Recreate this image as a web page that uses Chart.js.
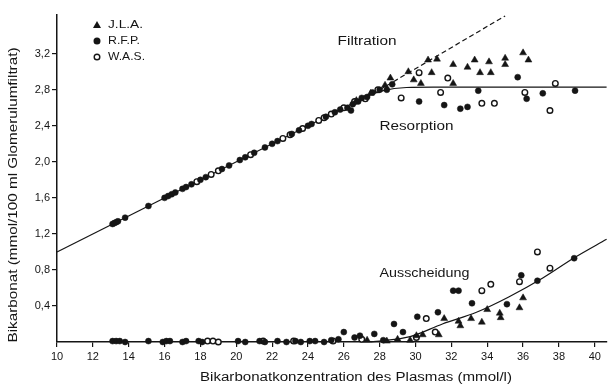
<!DOCTYPE html>
<html>
<head>
<meta charset="utf-8">
<script src="https://cdn.jsdelivr.net/npm/chart.js@4.4.1/dist/chart.umd.min.js"></script>
<style>
  html, body { margin: 0; padding: 0; background: #fff; }
</style>
</head>
<body>
<canvas id="chart" width="612" height="385"></canvas>
<script>
// Ticks
const xTicks = [10, 12, 14, 16, 18, 20, 22, 24, 26, 28, 30, 32, 34, 36, 38, 40];
const yTicks = [0.4, 0.8, 1.2, 1.6, 2.0, 2.4, 2.8, 3.2];

// Messpunkte [Plasma-Bikarbonat, Bikarbonat]
const jlaPoints = [
  [26.7, 2.68], [27.5, 2.76], [28.3, 2.85], [28.6, 2.93], [29.6, 3.0], [29.9, 2.91],
  [30.3, 2.87], [30.7, 3.13], [30.9, 2.99], [31.2, 3.14], [32.1, 3.08], [32.1, 2.87],
  [32.9, 3.05], [33.3, 3.13], [33.6, 2.99], [34.1, 3.11], [34.2, 2.99], [35.0, 3.15],
  [35.0, 3.08], [36.0, 3.21], [36.3, 3.13],
  [27.3, 0.02], [28.4, 0.01], [29.0, 0.03], [29.7, 0.02], [30.05, 0.07], [30.4, 0.08],
  [31.3, 0.08], [31.6, 0.26], [32.4, 0.23], [32.5, 0.18], [33.1, 0.26], [33.7, 0.22],
  [34.0, 0.36], [34.7, 0.32], [34.75, 0.27], [35.8, 0.38], [36.0, 0.49]
];
const rfpPoints = [
  [13.1, 1.31], [13.2, 1.32], [13.3, 1.33], [13.4, 1.34], [13.8, 1.38], [15.1, 1.51],
  [16.0, 1.60], [16.2, 1.62], [16.4, 1.64], [16.6, 1.66], [17.0, 1.70], [17.2, 1.72],
  [17.5, 1.75], [18.0, 1.80], [18.3, 1.83], [19.2, 1.92], [19.6, 1.96], [20.2, 2.02],
  [20.5, 2.05], [21.0, 2.10], [21.6, 2.16], [22.0, 2.20], [22.3, 2.23], [23.1, 2.31],
  [23.5, 2.35], [24.0, 2.40], [24.2, 2.42], [25.0, 2.50], [25.5, 2.55], [25.8, 2.58],
  [26.2, 2.60], [26.4, 2.57], [26.5, 2.64], [26.8, 2.67], [27.0, 2.71], [27.3, 2.72],
  [27.6, 2.77], [28.0, 2.80], [28.4, 2.80], [28.7, 2.86], [30.2, 2.67], [31.6, 2.63],
  [32.5, 2.59], [32.9, 2.61], [33.5, 2.79], [35.7, 2.94], [36.2, 2.70], [37.1, 2.76],
  [38.9, 2.79],
  [13.1, 0.01], [13.3, 0.01], [13.5, 0.01], [13.8, 0.0], [15.1, 0.01], [15.9, 0.0],
  [16.1, 0.01], [16.3, 0.01], [17.0, 0.0], [17.2, 0.01], [17.9, 0.01], [18.1, 0.0],
  [20.1, 0.01], [20.5, 0.0], [21.3, 0.01], [21.6, 0.0], [22.3, 0.01], [22.8, 0.0],
  [23.3, 0.01], [23.6, 0.0], [24.1, 0.01], [24.4, 0.01], [24.9, 0.0], [25.3, 0.02],
  [25.7, 0.03], [26.0, 0.11], [26.6, 0.05], [26.9, 0.07], [27.7, 0.09], [28.2, 0.02],
  [28.8, 0.2], [29.3, 0.11], [30.1, 0.28], [31.25, 0.33], [32.1, 0.57], [32.4, 0.57],
  [33.15, 0.43], [35.1, 0.42], [35.9, 0.74], [36.8, 0.68], [38.85, 0.93]
];
const wasPoints = [
  [17.8, 1.78], [18.6, 1.86], [19.0, 1.90], [20.8, 2.08], [22.6, 2.26], [23.0, 2.30],
  [23.7, 2.37], [24.6, 2.46], [24.9, 2.49], [25.3, 2.53], [26.0, 2.60], [26.6, 2.67],
  [27.2, 2.70], [27.9, 2.80], [29.2, 2.71], [30.2, 2.99], [31.4, 2.77], [31.8, 2.93],
  [33.7, 2.65], [34.4, 2.65], [36.1, 2.77], [37.5, 2.57], [37.8, 2.87],
  [18.4, 0.01], [18.7, 0.01], [19.0, 0.0], [21.5, 0.01], [23.2, 0.01], [25.4, 0.01],
  [27.0, 0.03], [30.05, 0.05], [30.6, 0.26], [31.1, 0.11], [33.7, 0.57], [34.2, 0.64],
  [35.8, 0.67], [36.8, 1.0], [37.5, 0.82]
];

// Kurven
const filtrationLine = [[10, 1.0], [28, 2.8]];
const filtrationDashed = [[28, 2.8], [35.0, 3.62]];
const resorptionCurve = [[26.5, 2.65], [27.2, 2.72], [28.2, 2.79], [29.5, 2.825], [31, 2.83], [40.66, 2.83]];
const ausscheidungCurve = [[27.5, 0], [29.7, 0.06], [31.5, 0.2], [33.4, 0.33], [35.2, 0.5], [37.1, 0.71], [38.9, 0.94], [40.66, 1.14]];

const INK = '#151515';
const FONT = "'Liberation Sans', Arial, sans-serif";

const toXY = arr => arr.map(p => ({ x: p[0], y: p[1] }));

function curve(data, opts) {
  return Object.assign({
    data: toXY(data),
    showLine: true,
    pointRadius: 0,
    borderColor: INK,
    borderWidth: 1.2,
    fill: false,
    clip: false
  }, opts);
}

// Text in die Breite ziehen, wie in der Vorlage (breite Grotesk)
function wideText(ctx, text, x, y, width, align) {
  const w = ctx.measureText(text).width;
  const k = width / w;
  ctx.save();
  ctx.translate(x, y);
  ctx.scale(k, 1);
  ctx.textAlign = align || 'center';
  ctx.fillText(text, 0, 0);
  ctx.restore();
}

const labelsPlugin = {
  id: 'labels',
  afterDraw(chart) {
    const ctx = chart.ctx;
    const xs = chart.scales.x, ys = chart.scales.y;
    ctx.save();
    ctx.fillStyle = INK;
    ctx.strokeStyle = INK;
    ctx.textBaseline = 'middle';

    // Legende
    ctx.font = '11px ' + FONT;
    const legendWidths = [35, 32, 37];
    for (let i = 0; i < 3; i++) {
      const ds = chart.data.datasets[i];
      const cx = 97, cy = 25 + i * 16;
      ctx.beginPath();
      if (ds.pointStyle === 'triangle') {
        ctx.moveTo(cx, cy - 4);
        ctx.lineTo(cx + 4, cy + 3);
        ctx.lineTo(cx - 4, cy + 3);
        ctx.closePath();
        ctx.fill();
      } else {
        ctx.arc(cx, cy, 2.8, 0, Math.PI * 2);
        ctx.fillStyle = ds.backgroundColor;
        ctx.fill();
        ctx.lineWidth = 1.4;
        ctx.stroke();
      }
      ctx.fillStyle = INK;
      wideText(ctx, ds.label, 108, cy, legendWidths[i], 'left');
    }

    // Beschriftung der Kurven
    ctx.font = '12px ' + FONT;
    wideText(ctx, 'Filtration', xs.getPixelForValue(27.3), ys.getPixelForValue(3.33), 59);
    wideText(ctx, 'Resorption', xs.getPixelForValue(30.05), ys.getPixelForValue(2.39), 74);
    wideText(ctx, 'Ausscheidung', xs.getPixelForValue(30.5), ys.getPixelForValue(0.76), 90);

    // Achsentitel
    wideText(ctx, 'Bikarbonatkonzentration des Plasmas (mmol/l)', 356, 378, 312);
    ctx.translate(14, 195);
    ctx.rotate(-Math.PI / 2);
    wideText(ctx, 'Bikarbonat (mmol/100 ml Glomerulumfiltrat)', 0, 0, 295);
    ctx.restore();
  }
};

new Chart(document.getElementById('chart'), {
  type: 'scatter',
  data: {
    datasets: [
      {
        label: 'J.L.A.',
        data: toXY(jlaPoints),
        pointStyle: 'triangle',
        pointRadius: 4,
        backgroundColor: INK,
        borderColor: INK,
        borderWidth: 0.5,
        clip: false
      },
      {
        label: 'R.F.P.',
        data: toXY(rfpPoints),
        pointStyle: 'circle',
        pointRadius: 3,
        backgroundColor: INK,
        borderColor: INK,
        borderWidth: 0.5,
        clip: false
      },
      {
        label: 'W.A.S.',
        data: toXY(wasPoints),
        pointStyle: 'circle',
        pointRadius: 2.8,
        backgroundColor: '#fff',
        borderColor: INK,
        borderWidth: 1.4,
        clip: false
      },
      curve(filtrationLine, { label: 'Filtration' }),
      curve(filtrationDashed, { label: 'Filtration (extrapoliert)', borderDash: [5, 3] }),
      curve(resorptionCurve, { label: 'Resorption', tension: 0.4, cubicInterpolationMode: 'monotone' }),
      curve(ausscheidungCurve, { label: 'Ausscheidung', tension: 0.4, cubicInterpolationMode: 'monotone' })
    ]
  },
  options: {
    responsive: false,
    animation: false,
    devicePixelRatio: 1,
    layout: { padding: { top: 15, left: 0, right: 0, bottom: 0 } },
    plugins: {
      legend: { display: false },
      tooltip: { enabled: false }
    },
    scales: {
      x: {
        type: 'linear',
        min: 10,
        max: 40.66,
        afterBuildTicks: s => { s.ticks = xTicks.map(v => ({ value: v })); },
        afterFit: s => { s.height = 43; s.paddingLeft = 0; s.paddingRight = 0; },
        ticks: { color: INK, font: { family: FONT, size: 11 }, padding: 3, maxRotation: 0, autoSkip: false },
        grid: { drawOnChartArea: false, tickLength: 5, color: INK, tickColor: INK, lineWidth: 1.2 },
        border: { color: INK, width: 1.5 }
      },
      y: {
        type: 'linear',
        min: 0,
        max: 3.63,
        afterBuildTicks: s => { s.ticks = yTicks.map(v => ({ value: v })); },
        afterFit: s => { s.width = 57; },
        ticks: {
          color: INK,
          font: { family: FONT, size: 11 },
          padding: 2,
          callback: v => v.toFixed(1).replace('.', ',')
        },
        grid: { drawOnChartArea: false, tickLength: 5, color: INK, tickColor: INK, lineWidth: 1.2 },
        border: { color: INK, width: 1.5 }
      }
    }
  },
  plugins: [labelsPlugin]
});
</script>
</body>
</html>
